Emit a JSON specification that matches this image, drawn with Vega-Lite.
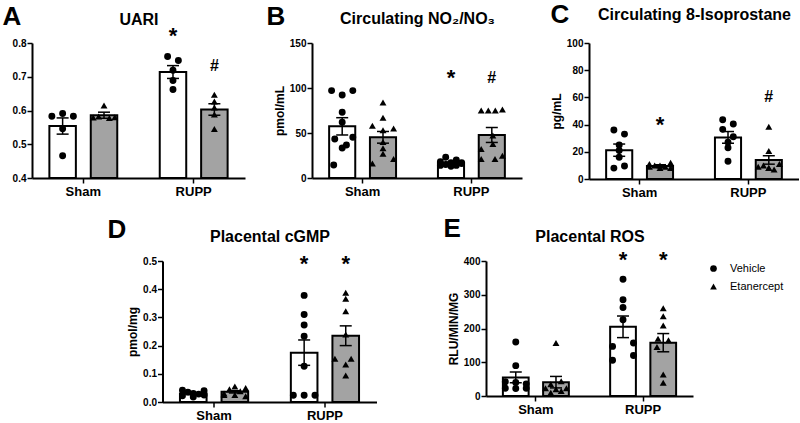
{
"$schema": "https://vega.github.io/schema/vega-lite/v6.json",
"padding": {"left": 2, "top": 1, "right": 0, "bottom": 0},
"background": "white",
"datasets": {
"summary": [
{"p":"A","g":"Sham","t":"Vehicle","mean":0.554,"sem":0.024,"ann":"","annY":0},
{"p":"A","g":"Sham","t":"Etanercept","mean":0.586,"sem":0.009,"ann":"","annY":0},
{"p":"A","g":"RUPP","t":"Vehicle","mean":0.714,"sem":0.019,"ann":"*","annY":0.822},
{"p":"A","g":"RUPP","t":"Etanercept","mean":0.603,"sem":0.017,"ann":"#","annY":0.731},
{"p":"B","g":"Sham","t":"Vehicle","mean":57.4,"sem":9.6,"ann":"","annY":0},
{"p":"B","g":"Sham","t":"Etanercept","mean":45.2,"sem":6.5,"ann":"","annY":0},
{"p":"B","g":"RUPP","t":"Vehicle","mean":16.7,"sem":1.0,"ann":"*","annY":111},
{"p":"B","g":"RUPP","t":"Etanercept","mean":47.8,"sem":8.3,"ann":"#","annY":111},
{"p":"C","g":"Sham","t":"Vehicle","mean":21.2,"sem":4.5,"ann":"","annY":0},
{"p":"C","g":"Sham","t":"Etanercept","mean":9.6,"sem":0.9,"ann":"*","annY":39.5},
{"p":"C","g":"RUPP","t":"Vehicle","mean":30.6,"sem":4.3,"ann":"","annY":0},
{"p":"C","g":"RUPP","t":"Etanercept","mean":14.0,"sem":3.1,"ann":"#","annY":60},
{"p":"D","g":"Sham","t":"Vehicle","mean":0.030,"sem":0.003,"ann":"","annY":0},
{"p":"D","g":"Sham","t":"Etanercept","mean":0.036,"sem":0.004,"ann":"","annY":0},
{"p":"D","g":"RUPP","t":"Vehicle","mean":0.175,"sem":0.045,"ann":"*","annY":0.49},
{"p":"D","g":"RUPP","t":"Etanercept","mean":0.235,"sem":0.035,"ann":"*","annY":0.49},
{"p":"E","g":"Sham","t":"Vehicle","mean":55,"sem":16,"ann":"","annY":0},
{"p":"E","g":"Sham","t":"Etanercept","mean":41,"sem":17,"ann":"","annY":0},
{"p":"E","g":"RUPP","t":"Vehicle","mean":205,"sem":32,"ann":"*","annY":402},
{"p":"E","g":"RUPP","t":"Etanercept","mean":158,"sem":27,"ann":"*","annY":402}
],
"points": [
{"p":"A","g":"Sham","t":"Vehicle","v":0.583,"j":-1},{"p":"A","g":"Sham","t":"Vehicle","v":0.591,"j":0},{"p":"A","g":"Sham","t":"Vehicle","v":0.583,"j":1},{"p":"A","g":"Sham","t":"Vehicle","v":0.546,"j":0},{"p":"A","g":"Sham","t":"Vehicle","v":0.466,"j":0},
{"p":"A","g":"Sham","t":"Etanercept","v":0.579,"j":-1},{"p":"A","g":"Sham","t":"Etanercept","v":0.582,"j":-0.5},{"p":"A","g":"Sham","t":"Etanercept","v":0.615,"j":0},{"p":"A","g":"Sham","t":"Etanercept","v":0.578,"j":0.5},{"p":"A","g":"Sham","t":"Etanercept","v":0.580,"j":1},
{"p":"A","g":"RUPP","t":"Vehicle","v":0.760,"j":-0.5},{"p":"A","g":"RUPP","t":"Vehicle","v":0.748,"j":0.5},{"p":"A","g":"RUPP","t":"Vehicle","v":0.719,"j":0},{"p":"A","g":"RUPP","t":"Vehicle","v":0.689,"j":0},{"p":"A","g":"RUPP","t":"Vehicle","v":0.662,"j":0},
{"p":"A","g":"RUPP","t":"Etanercept","v":0.647,"j":0},{"p":"A","g":"RUPP","t":"Etanercept","v":0.627,"j":0},{"p":"A","g":"RUPP","t":"Etanercept","v":0.609,"j":0},{"p":"A","g":"RUPP","t":"Etanercept","v":0.588,"j":0},{"p":"A","g":"RUPP","t":"Etanercept","v":0.545,"j":0},
{"p":"B","g":"Sham","t":"Vehicle","v":97.1,"j":-1},{"p":"B","g":"Sham","t":"Vehicle","v":92.2,"j":0},{"p":"B","g":"Sham","t":"Vehicle","v":97.1,"j":1},{"p":"B","g":"Sham","t":"Vehicle","v":73,"j":0},{"p":"B","g":"Sham","t":"Vehicle","v":61.9,"j":0},{"p":"B","g":"Sham","t":"Vehicle","v":45.2,"j":1},{"p":"B","g":"Sham","t":"Vehicle","v":43.3,"j":-0.7},{"p":"B","g":"Sham","t":"Vehicle","v":36.7,"j":0.4},{"p":"B","g":"Sham","t":"Vehicle","v":33.3,"j":0},{"p":"B","g":"Sham","t":"Vehicle","v":14.4,"j":-0.8},
{"p":"B","g":"Sham","t":"Etanercept","v":84,"j":0},{"p":"B","g":"Sham","t":"Etanercept","v":67,"j":0},{"p":"B","g":"Sham","t":"Etanercept","v":58,"j":-1},{"p":"B","g":"Sham","t":"Etanercept","v":53,"j":0},{"p":"B","g":"Sham","t":"Etanercept","v":55,"j":1},{"p":"B","g":"Sham","t":"Etanercept","v":40,"j":0},{"p":"B","g":"Sham","t":"Etanercept","v":27,"j":0},{"p":"B","g":"Sham","t":"Etanercept","v":16,"j":-1},{"p":"B","g":"Sham","t":"Etanercept","v":21,"j":1},{"p":"B","g":"Sham","t":"Etanercept","v":33,"j":0},
{"p":"B","g":"RUPP","t":"Vehicle","v":23,"j":-0.5},{"p":"B","g":"RUPP","t":"Vehicle","v":20,"j":0.5},{"p":"B","g":"RUPP","t":"Vehicle","v":18,"j":-1},{"p":"B","g":"RUPP","t":"Vehicle","v":17,"j":0},{"p":"B","g":"RUPP","t":"Vehicle","v":16,"j":1},{"p":"B","g":"RUPP","t":"Vehicle","v":15,"j":-0.5},{"p":"B","g":"RUPP","t":"Vehicle","v":14,"j":0.5},{"p":"B","g":"RUPP","t":"Vehicle","v":14,"j":-1},{"p":"B","g":"RUPP","t":"Vehicle","v":13,"j":0},{"p":"B","g":"RUPP","t":"Vehicle","v":17,"j":1},
{"p":"B","g":"RUPP","t":"Etanercept","v":74.9,"j":-1},{"p":"B","g":"RUPP","t":"Etanercept","v":74.9,"j":-0.33},{"p":"B","g":"RUPP","t":"Etanercept","v":74.9,"j":0.33},{"p":"B","g":"RUPP","t":"Etanercept","v":76,"j":1},{"p":"B","g":"RUPP","t":"Etanercept","v":47.1,"j":0.1},{"p":"B","g":"RUPP","t":"Etanercept","v":37.8,"j":0.1},{"p":"B","g":"RUPP","t":"Etanercept","v":32.2,"j":-1},{"p":"B","g":"RUPP","t":"Etanercept","v":21.1,"j":-1},{"p":"B","g":"RUPP","t":"Etanercept","v":21.1,"j":0.3},{"p":"B","g":"RUPP","t":"Etanercept","v":24.8,"j":1},
{"p":"C","g":"Sham","t":"Vehicle","v":36,"j":-0.5},{"p":"C","g":"Sham","t":"Vehicle","v":33,"j":0.5},{"p":"C","g":"Sham","t":"Vehicle","v":25,"j":0},{"p":"C","g":"Sham","t":"Vehicle","v":21,"j":0},{"p":"C","g":"Sham","t":"Vehicle","v":16,"j":0},{"p":"C","g":"Sham","t":"Vehicle","v":8,"j":-0.5},{"p":"C","g":"Sham","t":"Vehicle","v":9.5,"j":0.5},
{"p":"C","g":"Sham","t":"Etanercept","v":11,"j":-1},{"p":"C","g":"Sham","t":"Etanercept","v":12,"j":1},{"p":"C","g":"Sham","t":"Etanercept","v":10,"j":-0.5},{"p":"C","g":"Sham","t":"Etanercept","v":9,"j":0.5},{"p":"C","g":"Sham","t":"Etanercept","v":8,"j":0},{"p":"C","g":"Sham","t":"Etanercept","v":10,"j":0},{"p":"C","g":"Sham","t":"Etanercept","v":9,"j":-1},{"p":"C","g":"Sham","t":"Etanercept","v":8,"j":1},
{"p":"C","g":"RUPP","t":"Vehicle","v":43.5,"j":-0.5},{"p":"C","g":"RUPP","t":"Vehicle","v":40.5,"j":0.5},{"p":"C","g":"RUPP","t":"Vehicle","v":36.5,"j":-0.5},{"p":"C","g":"RUPP","t":"Vehicle","v":31,"j":0.5},{"p":"C","g":"RUPP","t":"Vehicle","v":27,"j":0},{"p":"C","g":"RUPP","t":"Vehicle","v":23,"j":0},{"p":"C","g":"RUPP","t":"Vehicle","v":13,"j":0},
{"p":"C","g":"RUPP","t":"Etanercept","v":38.5,"j":0},{"p":"C","g":"RUPP","t":"Etanercept","v":20.5,"j":0},{"p":"C","g":"RUPP","t":"Etanercept","v":9,"j":-1},{"p":"C","g":"RUPP","t":"Etanercept","v":10,"j":-0.5},{"p":"C","g":"RUPP","t":"Etanercept","v":8,"j":0},{"p":"C","g":"RUPP","t":"Etanercept","v":7,"j":0.5},{"p":"C","g":"RUPP","t":"Etanercept","v":11,"j":1},{"p":"C","g":"RUPP","t":"Etanercept","v":8,"j":0},
{"p":"D","g":"Sham","t":"Vehicle","v":0.042,"j":-1},{"p":"D","g":"Sham","t":"Vehicle","v":0.035,"j":-0.5},{"p":"D","g":"Sham","t":"Vehicle","v":0.030,"j":0},{"p":"D","g":"Sham","t":"Vehicle","v":0.028,"j":0.5},{"p":"D","g":"Sham","t":"Vehicle","v":0.040,"j":1},{"p":"D","g":"Sham","t":"Vehicle","v":0.022,"j":-1},{"p":"D","g":"Sham","t":"Vehicle","v":0.025,"j":1},{"p":"D","g":"Sham","t":"Vehicle","v":0.018,"j":0},
{"p":"D","g":"Sham","t":"Etanercept","v":0.055,"j":0},{"p":"D","g":"Sham","t":"Etanercept","v":0.050,"j":1},{"p":"D","g":"Sham","t":"Etanercept","v":0.045,"j":-0.5},{"p":"D","g":"Sham","t":"Etanercept","v":0.038,"j":0.5},{"p":"D","g":"Sham","t":"Etanercept","v":0.030,"j":-1},{"p":"D","g":"Sham","t":"Etanercept","v":0.025,"j":0},{"p":"D","g":"Sham","t":"Etanercept","v":0.020,"j":1},{"p":"D","g":"Sham","t":"Etanercept","v":0.025,"j":-1},
{"p":"D","g":"RUPP","t":"Vehicle","v":0.378,"j":0},{"p":"D","g":"RUPP","t":"Vehicle","v":0.310,"j":0},{"p":"D","g":"RUPP","t":"Vehicle","v":0.273,"j":0},{"p":"D","g":"RUPP","t":"Vehicle","v":0.233,"j":0},{"p":"D","g":"RUPP","t":"Vehicle","v":0.127,"j":0},{"p":"D","g":"RUPP","t":"Vehicle","v":0.024,"j":-1},{"p":"D","g":"RUPP","t":"Vehicle","v":0.024,"j":0},{"p":"D","g":"RUPP","t":"Vehicle","v":0.024,"j":1},
{"p":"D","g":"RUPP","t":"Etanercept","v":0.387,"j":0},{"p":"D","g":"RUPP","t":"Etanercept","v":0.366,"j":0},{"p":"D","g":"RUPP","t":"Etanercept","v":0.322,"j":0},{"p":"D","g":"RUPP","t":"Etanercept","v":0.239,"j":0},{"p":"D","g":"RUPP","t":"Etanercept","v":0.153,"j":-1},{"p":"D","g":"RUPP","t":"Etanercept","v":0.153,"j":0.5},{"p":"D","g":"RUPP","t":"Etanercept","v":0.133,"j":0},{"p":"D","g":"RUPP","t":"Etanercept","v":0.094,"j":0},
{"p":"E","g":"Sham","t":"Vehicle","v":160,"j":0},{"p":"E","g":"Sham","t":"Vehicle","v":90,"j":0},{"p":"E","g":"Sham","t":"Vehicle","v":42,"j":-1},{"p":"E","g":"Sham","t":"Vehicle","v":40,"j":0},{"p":"E","g":"Sham","t":"Vehicle","v":36,"j":1},{"p":"E","g":"Sham","t":"Vehicle","v":23,"j":-1},{"p":"E","g":"Sham","t":"Vehicle","v":22,"j":0},{"p":"E","g":"Sham","t":"Vehicle","v":23,"j":1},
{"p":"E","g":"Sham","t":"Etanercept","v":157,"j":0},{"p":"E","g":"Sham","t":"Etanercept","v":44,"j":0.5},{"p":"E","g":"Sham","t":"Etanercept","v":35,"j":-0.5},{"p":"E","g":"Sham","t":"Etanercept","v":23,"j":-1},{"p":"E","g":"Sham","t":"Etanercept","v":23,"j":1},{"p":"E","g":"Sham","t":"Etanercept","v":20,"j":0},{"p":"E","g":"Sham","t":"Etanercept","v":10,"j":-0.5},{"p":"E","g":"Sham","t":"Etanercept","v":15,"j":0.5},
{"p":"E","g":"RUPP","t":"Vehicle","v":346,"j":0},{"p":"E","g":"RUPP","t":"Vehicle","v":285,"j":0},{"p":"E","g":"RUPP","t":"Vehicle","v":262,"j":0},{"p":"E","g":"RUPP","t":"Vehicle","v":226,"j":0},{"p":"E","g":"RUPP","t":"Vehicle","v":147,"j":-1},{"p":"E","g":"RUPP","t":"Vehicle","v":157,"j":1},{"p":"E","g":"RUPP","t":"Vehicle","v":106,"j":-1},{"p":"E","g":"RUPP","t":"Vehicle","v":120,"j":1},
{"p":"E","g":"RUPP","t":"Etanercept","v":260,"j":0},{"p":"E","g":"RUPP","t":"Etanercept","v":236,"j":0},{"p":"E","g":"RUPP","t":"Etanercept","v":209,"j":0},{"p":"E","g":"RUPP","t":"Etanercept","v":170,"j":-0.5},{"p":"E","g":"RUPP","t":"Etanercept","v":145,"j":-0.6},{"p":"E","g":"RUPP","t":"Etanercept","v":165,"j":0.5},{"p":"E","g":"RUPP","t":"Etanercept","v":64,"j":0},{"p":"E","g":"RUPP","t":"Etanercept","v":39,"j":0}
]
},
"vconcat": [
{"hconcat": [
 {"width": 213, "height": 135,
  "layer": [
   {"data": {"name": "summary"},
    "transform": [{"filter": "datum.p=='A'"}, {"calculate": "datum.mean-datum.sem", "as": "lo"}, {"calculate": "datum.mean+datum.sem", "as": "hi"}],
    "encoding": {"x": {"field": "g", "type": "nominal", "sort": ["Sham","RUPP"], "title": null, "scale": {"paddingInner": 0.25, "paddingOuter": 0.09}},
                 "xOffset": {"field": "t", "type": "nominal", "sort": ["Vehicle","Etanercept"], "scale": {"paddingInner": 0.36, "paddingOuter": 0.18}}},
    "layer": [
     {"mark": {"type": "bar", "stroke": "black", "strokeWidth": 2}, "encoding": {"y": {"field": "mean", "type": "quantitative", "title": null, "scale": {"domain": [0.4,0.8], "nice": false, "zero": false}, "axis": {"values": [0.4,0.5,0.6,0.7,0.8], "tickCount": 10, "format": ".1f", "labelOverlap": false}}, "y2": {"datum": 0.4}, "fill": {"condition": {"test": "datum.t=='Vehicle'", "value": "white"}, "value": "#a3a3a3"}}},
     {"mark": {"type": "rule", "color": "black", "strokeWidth": 1.5}, "encoding": {"y": {"field": "lo", "type": "quantitative"}, "y2": {"field": "hi"}}},
     {"mark": {"type": "tick", "color": "black", "thickness": 1.5, "opacity": 1}, "encoding": {"y": {"field": "lo", "type": "quantitative"}, "size": {"value": 12}}},
     {"mark": {"type": "tick", "color": "black", "thickness": 1.5, "opacity": 1}, "encoding": {"y": {"field": "hi", "type": "quantitative"}, "size": {"value": 12}}},
     {"transform": [{"filter": "datum.ann!=''"}], "mark": {"type": "text", "fontWeight": "bold", "baseline": "middle", "color": "black"}, "encoding": {"y": {"field": "annY", "type": "quantitative"}, "text": {"field": "ann"}, "size": {"condition": {"test": "datum.ann=='*'", "value": 22}, "value": 16}}}
    ]},
   {"data": {"name": "points"},
    "transform": [{"filter": "datum.p=='A'"}, {"calculate": "(datum.t=='Vehicle'?0.25:0.75)+datum.j*0.13", "as": "off"}],
    "mark": {"type": "point", "filled": true, "color": "black", "opacity": 1, "size": 48},
    "encoding": {"x": {"field": "g", "type": "nominal", "sort": ["Sham","RUPP"], "axis": {"orient": "top", "title": "UARI", "labels": false, "ticks": false, "domain": false, "titleX": 106.5, "titleY": -18.7, "titleAlign": "center", "titleBaseline": "alphabetic", "titleAngle": 0, "titleFontSize": 16}},
                 "xOffset": {"field": "off", "type": "quantitative", "scale": {"domain": [0,1], "nice": false, "zero": false}},
                 "y": {"field": "v", "type": "quantitative", "axis": {"orient": "left", "title": "A", "labels": false, "ticks": false, "domain": false, "titleX": -30, "titleY": -18.7, "titleAlign": "left", "titleBaseline": "alphabetic", "titleAngle": 0, "titleFontSize": 26}},
                 "shape": {"field": "t", "type": "nominal", "scale": {"domain": ["Vehicle","Etanercept"], "range": ["circle","triangle-up"]}, "legend": null}}}
  ],
  "resolve": {"scale": {"xOffset": "independent"}, "axis": {"x": "independent", "y": "independent"}}
 },
 {"width": 210, "height": 135,
  "layer": [
   {"data": {"name": "summary"},
    "transform": [{"filter": "datum.p=='B'"}, {"calculate": "datum.mean-datum.sem", "as": "lo"}, {"calculate": "datum.mean+datum.sem", "as": "hi"}],
    "encoding": {"x": {"field": "g", "type": "nominal", "sort": ["Sham","RUPP"], "title": null, "scale": {"paddingInner": 0.25, "paddingOuter": 0.09}},
                 "xOffset": {"field": "t", "type": "nominal", "sort": ["Vehicle","Etanercept"], "scale": {"paddingInner": 0.36, "paddingOuter": 0.18}}},
    "layer": [
     {"mark": {"type": "bar", "stroke": "black", "strokeWidth": 2}, "encoding": {"y": {"field": "mean", "type": "quantitative", "title": "pmol/mL", "scale": {"domain": [0,150], "nice": false}, "axis": {"values": [0,50,100,150], "tickCount": 10, "labelOverlap": false}}, "y2": {"datum": 0}, "fill": {"condition": {"test": "datum.t=='Vehicle'", "value": "white"}, "value": "#a3a3a3"}}},
     {"mark": {"type": "rule", "color": "black", "strokeWidth": 1.5}, "encoding": {"y": {"field": "lo", "type": "quantitative"}, "y2": {"field": "hi"}}},
     {"mark": {"type": "tick", "color": "black", "thickness": 1.5, "opacity": 1}, "encoding": {"y": {"field": "lo", "type": "quantitative"}, "size": {"value": 12}}},
     {"mark": {"type": "tick", "color": "black", "thickness": 1.5, "opacity": 1}, "encoding": {"y": {"field": "hi", "type": "quantitative"}, "size": {"value": 12}}},
     {"transform": [{"filter": "datum.ann!=''"}], "mark": {"type": "text", "fontWeight": "bold", "baseline": "middle", "color": "black"}, "encoding": {"y": {"field": "annY", "type": "quantitative"}, "text": {"field": "ann"}, "size": {"condition": {"test": "datum.ann=='*'", "value": 22}, "value": 16}}}
    ]},
   {"data": {"name": "points"},
    "transform": [{"filter": "datum.p=='B'"}, {"calculate": "(datum.t=='Vehicle'?0.25:0.75)+datum.j*0.13", "as": "off"}],
    "mark": {"type": "point", "filled": true, "color": "black", "opacity": 1, "size": 48},
    "encoding": {"x": {"field": "g", "type": "nominal", "sort": ["Sham","RUPP"], "axis": {"orient": "top", "title": "Circulating NO₂/NO₃", "labels": false, "ticks": false, "domain": false, "titleX": 105, "titleY": -20, "titleAlign": "center", "titleBaseline": "alphabetic", "titleAngle": 0, "titleFontSize": 16}},
                 "xOffset": {"field": "off", "type": "quantitative", "scale": {"domain": [0,1], "nice": false, "zero": false}},
                 "y": {"field": "v", "type": "quantitative", "axis": {"orient": "left", "title": "B", "labels": false, "ticks": false, "domain": false, "titleX": -46, "titleY": -18.7, "titleAlign": "left", "titleBaseline": "alphabetic", "titleAngle": 0, "titleFontSize": 26}},
                 "shape": {"field": "t", "type": "nominal", "scale": {"domain": ["Vehicle","Etanercept"], "range": ["circle","triangle-up"]}, "legend": null}}}
  ],
  "resolve": {"scale": {"xOffset": "independent"}, "axis": {"x": "independent", "y": "independent"}}
 },
 {"width": 210, "height": 136,
  "layer": [
   {"data": {"name": "summary"},
    "transform": [{"filter": "datum.p=='C'"}, {"calculate": "datum.mean-datum.sem", "as": "lo"}, {"calculate": "datum.mean+datum.sem", "as": "hi"}],
    "encoding": {"x": {"field": "g", "type": "nominal", "sort": ["Sham","RUPP"], "title": null, "scale": {"paddingInner": 0.25, "paddingOuter": 0.09}},
                 "xOffset": {"field": "t", "type": "nominal", "sort": ["Vehicle","Etanercept"], "scale": {"paddingInner": 0.36, "paddingOuter": 0.18}}},
    "layer": [
     {"mark": {"type": "bar", "stroke": "black", "strokeWidth": 2}, "encoding": {"y": {"field": "mean", "type": "quantitative", "title": "pg/mL", "scale": {"domain": [0,100], "nice": false}, "axis": {"values": [0,20,40,60,80,100], "tickCount": 10, "labelOverlap": false}}, "y2": {"datum": 0}, "fill": {"condition": {"test": "datum.t=='Vehicle'", "value": "white"}, "value": "#a3a3a3"}}},
     {"mark": {"type": "rule", "color": "black", "strokeWidth": 1.5}, "encoding": {"y": {"field": "lo", "type": "quantitative"}, "y2": {"field": "hi"}}},
     {"mark": {"type": "tick", "color": "black", "thickness": 1.5, "opacity": 1}, "encoding": {"y": {"field": "lo", "type": "quantitative"}, "size": {"value": 12}}},
     {"mark": {"type": "tick", "color": "black", "thickness": 1.5, "opacity": 1}, "encoding": {"y": {"field": "hi", "type": "quantitative"}, "size": {"value": 12}}},
     {"transform": [{"filter": "datum.ann!=''"}], "mark": {"type": "text", "fontWeight": "bold", "baseline": "middle", "color": "black"}, "encoding": {"y": {"field": "annY", "type": "quantitative"}, "text": {"field": "ann"}, "size": {"condition": {"test": "datum.ann=='*'", "value": 22}, "value": 16}}}
    ]},
   {"data": {"name": "points"},
    "transform": [{"filter": "datum.p=='C'"}, {"calculate": "(datum.t=='Vehicle'?0.25:0.75)+datum.j*0.13", "as": "off"}],
    "mark": {"type": "point", "filled": true, "color": "black", "opacity": 1, "size": 48},
    "encoding": {"x": {"field": "g", "type": "nominal", "sort": ["Sham","RUPP"], "axis": {"orient": "top", "title": "Circulating 8-Isoprostane", "labels": false, "ticks": false, "domain": false, "titleX": 105, "titleY": -23.7, "titleAlign": "center", "titleBaseline": "alphabetic", "titleAngle": 0, "titleFontSize": 16}},
                 "xOffset": {"field": "off", "type": "quantitative", "scale": {"domain": [0,1], "nice": false, "zero": false}},
                 "y": {"field": "v", "type": "quantitative", "axis": {"orient": "left", "title": "C", "labels": false, "ticks": false, "domain": false, "titleX": -39, "titleY": -20.7, "titleAlign": "left", "titleBaseline": "alphabetic", "titleAngle": 0, "titleFontSize": 26}},
                 "shape": {"field": "t", "type": "nominal", "scale": {"domain": ["Vehicle","Etanercept"], "range": ["circle","triangle-up"]}, "legend": null}}}
  ],
  "resolve": {"scale": {"xOffset": "independent"}, "axis": {"x": "independent", "y": "independent"}}
 }
], "spacing": 67, "bounds": "flush", "resolve": {"scale": {"shape": "independent"}}},
{"hconcat": [
 {"width": 21, "height": 10, "view": {"fill": "white", "stroke": null}, "data": {"values": []}, "mark": "point", "encoding": {}},
 {"width": 214, "height": 141,
  "layer": [
   {"data": {"name": "summary"},
    "transform": [{"filter": "datum.p=='D'"}, {"calculate": "datum.mean-datum.sem", "as": "lo"}, {"calculate": "datum.mean+datum.sem", "as": "hi"}],
    "encoding": {"x": {"field": "g", "type": "nominal", "sort": ["Sham","RUPP"], "title": null, "scale": {"paddingInner": 0.25, "paddingOuter": 0.09}},
                 "xOffset": {"field": "t", "type": "nominal", "sort": ["Vehicle","Etanercept"], "scale": {"paddingInner": 0.36, "paddingOuter": 0.18}}},
    "layer": [
     {"mark": {"type": "bar", "stroke": "black", "strokeWidth": 2}, "encoding": {"y": {"field": "mean", "type": "quantitative", "title": "pmol/mg", "scale": {"domain": [0,0.5], "nice": false}, "axis": {"values": [0,0.1,0.2,0.3,0.4,0.5], "tickCount": 10, "format": ".1f", "labelOverlap": false}}, "y2": {"datum": 0}, "fill": {"condition": {"test": "datum.t=='Vehicle'", "value": "white"}, "value": "#a3a3a3"}}},
     {"mark": {"type": "rule", "color": "black", "strokeWidth": 1.5}, "encoding": {"y": {"field": "lo", "type": "quantitative"}, "y2": {"field": "hi"}}},
     {"mark": {"type": "tick", "color": "black", "thickness": 1.5, "opacity": 1}, "encoding": {"y": {"field": "lo", "type": "quantitative"}, "size": {"value": 12}}},
     {"mark": {"type": "tick", "color": "black", "thickness": 1.5, "opacity": 1}, "encoding": {"y": {"field": "hi", "type": "quantitative"}, "size": {"value": 12}}},
     {"transform": [{"filter": "datum.ann!=''"}], "mark": {"type": "text", "fontWeight": "bold", "baseline": "middle", "color": "black"}, "encoding": {"y": {"field": "annY", "type": "quantitative"}, "text": {"field": "ann"}, "size": {"condition": {"test": "datum.ann=='*'", "value": 22}, "value": 16}}}
    ]},
   {"data": {"name": "points"},
    "transform": [{"filter": "datum.p=='D'"}, {"calculate": "(datum.t=='Vehicle'?0.25:0.75)+datum.j*0.13", "as": "off"}],
    "mark": {"type": "point", "filled": true, "color": "black", "opacity": 1, "size": 48},
    "encoding": {"x": {"field": "g", "type": "nominal", "sort": ["Sham","RUPP"], "axis": {"orient": "top", "title": "Placental cGMP", "labels": false, "ticks": false, "domain": false, "titleX": 107, "titleY": -19.5, "titleAlign": "center", "titleBaseline": "alphabetic", "titleAngle": 0, "titleFontSize": 16}},
                 "xOffset": {"field": "off", "type": "quantitative", "scale": {"domain": [0,1], "nice": false, "zero": false}},
                 "y": {"field": "v", "type": "quantitative", "axis": {"orient": "left", "title": "D", "labels": false, "ticks": false, "domain": false, "titleX": -55.5, "titleY": -23.5, "titleAlign": "left", "titleBaseline": "alphabetic", "titleAngle": 0, "titleFontSize": 26}},
                 "shape": {"field": "t", "type": "nominal", "scale": {"domain": ["Vehicle","Etanercept"], "range": ["circle","triangle-up"]}, "legend": null}}}
  ],
  "resolve": {"scale": {"xOffset": "independent"}, "axis": {"x": "independent", "y": "independent"}}
 },
 {"width": 207, "height": 135,
  "layer": [
   {"data": {"name": "summary"},
    "transform": [{"filter": "datum.p=='E'"}, {"calculate": "datum.mean-datum.sem", "as": "lo"}, {"calculate": "datum.mean+datum.sem", "as": "hi"}],
    "encoding": {"x": {"field": "g", "type": "nominal", "sort": ["Sham","RUPP"], "title": null, "scale": {"paddingInner": 0.25, "paddingOuter": 0.09}},
                 "xOffset": {"field": "t", "type": "nominal", "sort": ["Vehicle","Etanercept"], "scale": {"paddingInner": 0.36, "paddingOuter": 0.18}}},
    "layer": [
     {"mark": {"type": "bar", "stroke": "black", "strokeWidth": 2}, "encoding": {"y": {"field": "mean", "type": "quantitative", "title": "RLU/MIN/MG", "scale": {"domain": [0,400], "nice": false}, "axis": {"values": [0,100,200,300,400], "tickCount": 10, "labelOverlap": false}}, "y2": {"datum": 0}, "fill": {"condition": {"test": "datum.t=='Vehicle'", "value": "white"}, "value": "#a3a3a3"}}},
     {"mark": {"type": "rule", "color": "black", "strokeWidth": 1.5}, "encoding": {"y": {"field": "lo", "type": "quantitative"}, "y2": {"field": "hi"}}},
     {"mark": {"type": "tick", "color": "black", "thickness": 1.5, "opacity": 1}, "encoding": {"y": {"field": "lo", "type": "quantitative"}, "size": {"value": 12}}},
     {"mark": {"type": "tick", "color": "black", "thickness": 1.5, "opacity": 1}, "encoding": {"y": {"field": "hi", "type": "quantitative"}, "size": {"value": 12}}},
     {"transform": [{"filter": "datum.ann!=''"}], "mark": {"type": "text", "fontWeight": "bold", "baseline": "middle", "color": "black"}, "encoding": {"y": {"field": "annY", "type": "quantitative"}, "text": {"field": "ann"}, "size": {"condition": {"test": "datum.ann=='*'", "value": 22}, "value": 16}}}
    ]},
   {"data": {"name": "points"},
    "transform": [{"filter": "datum.p=='E'"}, {"calculate": "(datum.t=='Vehicle'?0.25:0.75)+datum.j*0.13", "as": "off"}],
    "mark": {"type": "point", "filled": true, "color": "black", "opacity": 1, "size": 48},
    "encoding": {"x": {"field": "g", "type": "nominal", "sort": ["Sham","RUPP"], "axis": {"orient": "top", "title": "Placental ROS", "labels": false, "ticks": false, "domain": false, "titleX": 103.5, "titleY": -19.8, "titleAlign": "center", "titleBaseline": "alphabetic", "titleAngle": 0, "titleFontSize": 16}},
                 "xOffset": {"field": "off", "type": "quantitative", "scale": {"domain": [0,1], "nice": false, "zero": false}},
                 "y": {"field": "v", "type": "quantitative", "axis": {"orient": "left", "title": "E", "labels": false, "ticks": false, "domain": false, "titleX": -43, "titleY": -24.5, "titleAlign": "left", "titleBaseline": "alphabetic", "titleAngle": 0, "titleFontSize": 26}},
                 "shape": {"field": "t", "type": "nominal", "scale": {"domain": ["Vehicle","Etanercept"], "range": ["circle","triangle-up"]}, "legend": {"title": null, "orient": "right", "offset": 13, "padding": 2, "labelFontSize": 11, "labelFontWeight": "normal", "labelColor": "black", "symbolSize": 45, "symbolFillColor": "black", "symbolStrokeColor": "black", "rowPadding": 5, "labelOffset": 11}}}}
  ],
  "resolve": {"scale": {"xOffset": "independent"}, "axis": {"x": "independent", "y": "independent"}}
 }
], "spacing": 109.5, "bounds": "flush", "resolve": {"scale": {"shape": "independent"}}}
],
"spacing": 16,
"resolve": {"scale": {"shape": "independent"}},
"config": {
 "font": "Liberation Sans",
 "view": {"stroke": null},
 "axis": {"domainColor": "black", "tickColor": "black", "labelColor": "black", "titleColor": "black", "grid": false, "labelFontWeight": "bold", "titleFontWeight": "bold", "domainWidth": 2, "tickWidth": 1.5, "labelFont": "Liberation Sans", "titleFont": "Liberation Sans", "labelOverlap": false},
 "axisX": {"labelFontSize": 13, "labelAngle": 0, "tickSize": 5, "labelPadding": 2},
 "axisY": {"labelFontSize": 10, "tickSize": 5, "labelPadding": 1, "titleFontSize": 12, "titlePadding": 3, "labelFlush": false},
 "legend": {"labelFont": "Liberation Sans"}
}
}
